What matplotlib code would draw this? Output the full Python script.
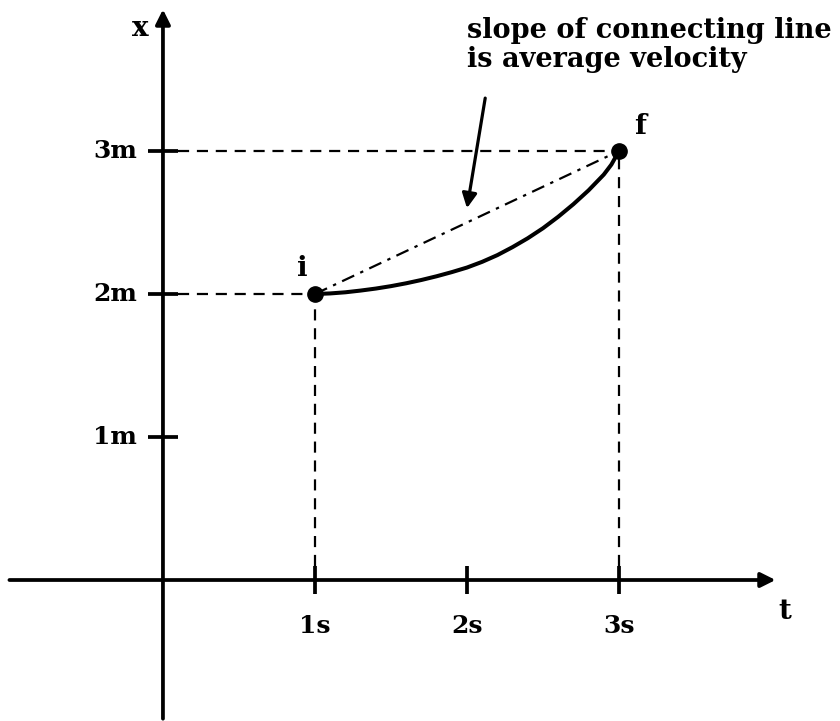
import numpy as np
from matplotlib import pyplot as plt

# values
t_ticks = [1, 2, 3]
t_labels = ['1s', '2s', '3s']
x_ticks = [1, 2, 3]
x_labels = ['1m', '2m', '3m']

# position curve x(t), from i (1s, 2m) to f (3s, 3m)
curve_t = [1.0, 1.1, 1.2, 1.3, 1.4, 1.5, 1.6, 1.7, 1.8, 1.9, 2.0,
           2.1, 2.2, 2.3, 2.4, 2.5, 2.6, 2.7, 2.8, 2.9, 2.95, 3.0]
curve_x = [2.0, 2.004, 2.012, 2.024, 2.038, 2.055, 2.075, 2.098, 2.124, 2.153, 2.185,
           2.225, 2.272, 2.328, 2.39, 2.46, 2.54, 2.628, 2.725, 2.835, 2.905, 3.0]

pt_i = (1.0, 2.0)
pt_f = (3.0, 3.0)

FONT = 'DejaVu Serif'
FS = 18


def main():
    fig = plt.figure(figsize=(8.4, 7.21), dpi=100)
    ax = fig.add_axes([0, 0, 1, 1])
    ax.set_xlim(-1.072, 4.454)
    ax.set_ylim(-0.986, 4.056)
    ax.axis('off')

    # axes with arrow heads
    ax.annotate('', xy=(4.03, 0), xytext=(-1.01, 0),
                arrowprops=dict(arrowstyle='-|>', lw=2.7, color='black',
                                mutation_scale=22, shrinkA=0, shrinkB=0))
    ax.annotate('', xy=(0, 3.99), xytext=(0, -0.97),
                arrowprops=dict(arrowstyle='-|>', lw=2.7, color='black',
                                mutation_scale=22, shrinkA=0, shrinkB=0))

    # ticks
    for t, lab in zip(t_ticks, t_labels):
        ax.plot([t, t], [-0.1, 0.1], color='black', lw=2.7, solid_capstyle='butt')
        ax.text(t, -0.32, lab, ha='center', va='center', family=FONT,
                fontweight='bold', fontsize=FS)
    for x, lab in zip(x_ticks, x_labels):
        ax.plot([-0.1, 0.1], [x, x], color='black', lw=2.7, solid_capstyle='butt')
        ax.text(-0.17, x, lab, ha='right', va='center', family=FONT,
                fontweight='bold', fontsize=FS)

    ax.text(4.09, -0.22, 't', ha='center', va='center', family=FONT,
            fontweight='bold', fontsize=FS + 2)
    ax.text(-0.15, 3.86, 'x', ha='center', va='center', family=FONT,
            fontweight='bold', fontsize=FS + 2)

    # dashed guide lines
    for (t, x) in [pt_i, pt_f]:
        ax.plot([0.1, t], [x, x], color='black', lw=1.6, ls=(0, (5, 3.5)))
        ax.plot([t, t], [0.1, x], color='black', lw=1.6, ls=(0, (5, 3.5)))

    # connecting line and curve
    ax.plot([pt_i[0], pt_f[0]], [pt_i[1], pt_f[1]], color='black', lw=1.6,
            ls=(0, (6, 3, 1.5, 3)))
    ax.plot(curve_t, curve_x, color='black', lw=2.9, solid_capstyle='round',
            solid_joinstyle='round')
    ax.plot(*zip(pt_i, pt_f), 'o', color='black', ms=11, ls='none')

    ax.text(pt_i[0] - 0.08, pt_i[1] + 0.18, 'i', ha='center', va='center',
            family=FONT, fontweight='bold', fontsize=FS + 2)
    ax.text(pt_f[0] + 0.14, pt_f[1] + 0.17, 'f', ha='center', va='center',
            family=FONT, fontweight='bold', fontsize=FS + 2)

    # annotation
    ax.text(2.0, 3.79, 'slope of connecting line', ha='left', va='baseline',
            family=FONT, fontweight='bold', fontsize=FS + 1.5)
    ax.text(2.0, 3.59, 'is average velocity', ha='left', va='baseline',
            family=FONT, fontweight='bold', fontsize=FS + 1.5)
    ax.annotate('', xy=(2.0, 2.6), xytext=(2.12, 3.37),
                arrowprops=dict(arrowstyle='-|>', lw=2.3, color='black',
                                mutation_scale=22, shrinkA=0, shrinkB=0))

    fig.savefig('out.png', dpi=100)


main()
